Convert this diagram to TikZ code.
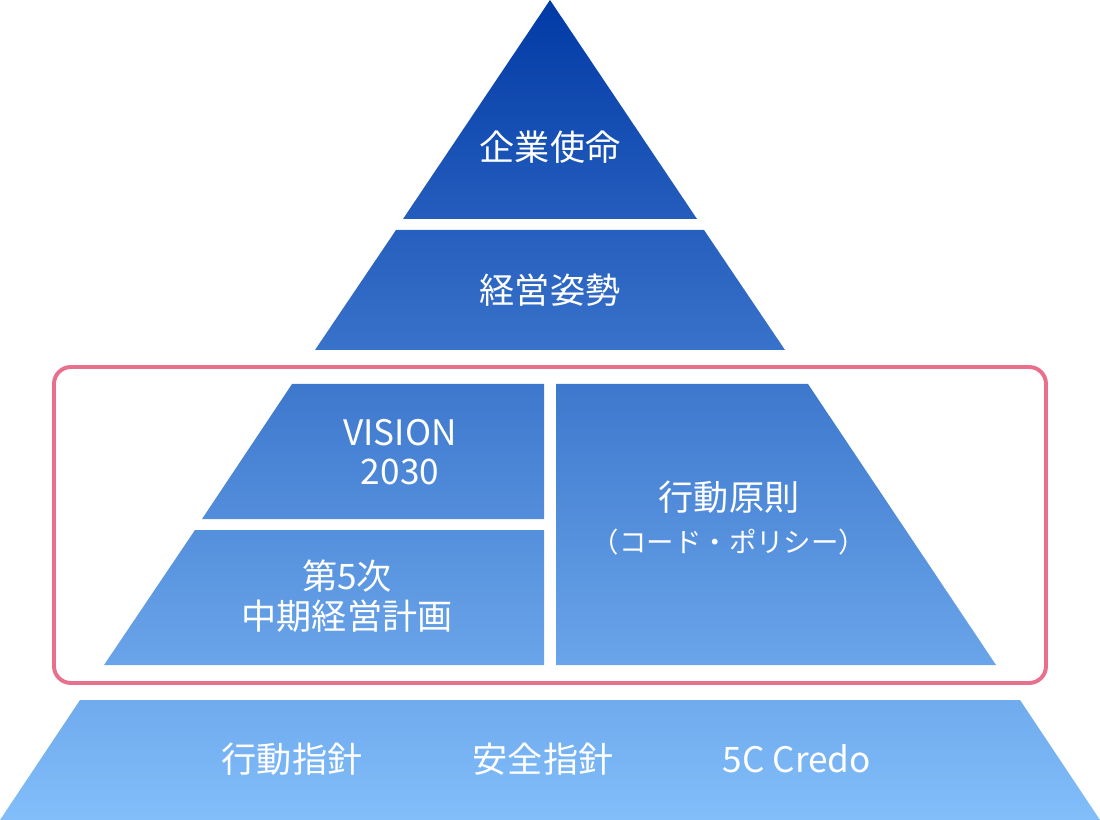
\documentclass[tikz,border=0pt]{standalone}
\usepackage{fontspec}
\setmainfont{Noto Sans CJK JP}
\usepackage{xcolor}
\definecolor{pyrtop}{RGB}{2,58,166}
\definecolor{pyrbot}{RGB}{130,190,250}
\definecolor{framepink}{RGB}{233,112,140}
\usepackage{tikz}
\usetikzlibrary{positioning}

\begin{document}
\begin{tikzpicture}[x=0.025cm, y=-0.025cm,
  slab/.style 2 args={top color=pyrbot!#1!pyrtop, bottom color=pyrbot!#2!pyrtop, draw=none},
  tlbl/.style={font=\fontsize{25}{28}\selectfont, text=white, align=center, inner sep=0pt},
  tsub/.style={font=\fontsize{19.5}{22}\selectfont, text=white, align=center, inner sep=0pt}
]
\useasboundingbox (0,0) rectangle (1100,820);

% Top: mission
\shade[slab={0}{26.7}] (550,0) -- (697,219) -- (403,219) -- cycle;
\node[tlbl] (mission) at (550,147) {企業使命};

% Second: stance
\shade[slab={28}{42.7}] (396,230) -- (704,230) -- (785,350) -- (315,350) -- cycle;
\node[tlbl] (stance) at (550,290) {経営姿勢};

% Middle-left: vision and plan
\shade[slab={46.8}{63.3}] (292,384) -- (544,384) -- (544,519) -- (202,519) -- cycle;
\node[tlbl] (vision) at (400,452) {VISION\\2030};

\shade[slab={64.6}{81.1}] (195,530) -- (544,530) -- (544,665) -- (104,665) -- cycle;
\node[tlbl] (plan) at (347,596) {第5次\\中期経営計画};

% Middle-right: principles
\shade[slab={46.8}{81.1}] (556,384) -- (808,384) -- (996,665) -- (556,665) -- cycle;
\node[tlbl] (principle) at (729,497) {行動原則};
\node[tsub, below=11pt of principle] (policy) {（コード・ポリシー）};

% Highlight frame
\draw[framepink, line width=2.8pt, rounded corners=12pt] (54,367) rectangle (1046,683);

% Bottom: guidelines
\shade[slab={85.4}{100}] (80,700) -- (1020,700) -- (1100,820) -- (0,820) -- cycle;
\node[tlbl] (conduct) at (292,759) {行動指針};
\node[tlbl] (safety) at (543,759) {安全指針};
\node[tlbl] (credo) at (797,759) {5C Credo};
\end{tikzpicture}
\end{document}
